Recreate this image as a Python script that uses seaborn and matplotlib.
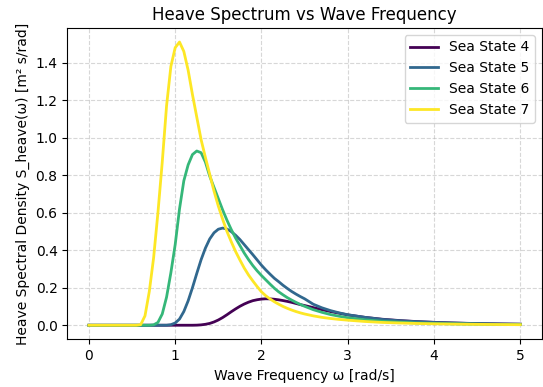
import matplotlib
matplotlib.use("Agg")
import matplotlib.pyplot as plt
import seaborn as sns
import pandas as pd

# Wave frequency grid [rad/s]
omega = [0.0, 0.1, 0.2, 0.3, 0.4, 0.5, 0.55, 0.60, 0.65, 0.70, 0.75, 0.80, 0.85, 0.90, 0.95,
         1.00, 1.05, 1.10, 1.15, 1.20, 1.25, 1.30, 1.35, 1.40, 1.45, 1.50, 1.55, 1.60, 1.65,
         1.70, 1.75, 1.80, 1.85, 1.90, 1.95, 2.00, 2.05, 2.10, 2.15, 2.20, 2.25, 2.30, 2.35,
         2.40, 2.45, 2.50, 2.6, 2.7, 2.8, 2.9, 3.0, 3.2, 3.4, 3.6, 3.8, 4.0, 4.2, 4.4, 4.6,
         4.8, 5.0]

sea_state_4 = [0, 0, 0, 0, 0, 0, 0, 0, 0, 0, 0, 0, 0, 0, 0,
               0, 0, 0, 0, 0, 0.0005, 0.002, 0.005, 0.0097, 0.0175, 0.028, 0.041, 0.056, 0.072,
               0.087, 0.101, 0.113, 0.123, 0.131, 0.136, 0.1395, 0.141, 0.1405, 0.1385, 0.1355, 0.1315, 0.127, 0.122,
               0.116, 0.110, 0.105, 0.094, 0.083, 0.073, 0.064, 0.055, 0.042, 0.032, 0.025, 0.0195, 0.0155, 0.0125, 0.010, 0.0083,
               0.0069, 0.0058]

sea_state_5 = [0, 0, 0, 0, 0, 0, 0, 0, 0, 0, 0, 0, 0, 0, 0.003,
               0.012, 0.033, 0.073, 0.13, 0.20, 0.276, 0.349, 0.411, 0.46, 0.493, 0.512, 0.518, 0.513, 0.499,
               0.48, 0.457, 0.43, 0.403, 0.376, 0.348, 0.32, 0.295, 0.272, 0.25, 0.232, 0.213, 0.196, 0.18,
               0.166, 0.153, 0.141, 0.112, 0.093, 0.078, 0.066, 0.056, 0.042, 0.031, 0.024, 0.019, 0.015, 0.012, 0.0095, 0.0078,
               0.0064, 0.0053]

sea_state_6 = [0, 0, 0, 0, 0, 0, 0, 0, 0, 0, 0.002, 0.015, 0.06, 0.15, 0.28,
               0.43, 0.62, 0.77, 0.855, 0.91, 0.929, 0.92, 0.87, 0.795, 0.735, 0.675, 0.615, 0.56, 0.51,
               0.465, 0.425, 0.385, 0.35, 0.318, 0.29, 0.265, 0.242, 0.219, 0.197, 0.178, 0.162, 0.147, 0.134,
               0.122, 0.111, 0.101, 0.083, 0.069, 0.057, 0.048, 0.040, 0.029, 0.021, 0.016, 0.012, 0.0095, 0.0077, 0.0063, 0.0052,
               0.0043, 0.0036]

sea_state_7 = [0, 0, 0, 0, 0, 0, 0, 0.003, 0.05, 0.18, 0.36, 0.60, 0.87, 1.17, 1.38,
               1.48, 1.51, 1.46, 1.36, 1.23, 1.11, 0.99, 0.895, 0.805, 0.715, 0.635, 0.565, 0.50, 0.445,
               0.393, 0.348, 0.305, 0.268, 0.236, 0.206, 0.178, 0.157, 0.14, 0.125, 0.112, 0.10, 0.09, 0.081,
               0.073, 0.066, 0.06, 0.05, 0.042, 0.036, 0.031, 0.027, 0.020, 0.015, 0.012, 0.0095, 0.0077, 0.0063, 0.0052, 0.0043,
               0.0036, 0.003]

labels = ["Sea State 4", "Sea State 5", "Sea State 6", "Sea State 7"]
series = [sea_state_4, sea_state_5, sea_state_6, sea_state_7]

df = pd.concat(
    [pd.DataFrame({"omega": omega, "S": s, "state": lab}) for s, lab in zip(series, labels)],
    ignore_index=True,
)

cmap = plt.get_cmap("viridis")
colors = [cmap(0.0), cmap(1 / 3), cmap(2 / 3), cmap(1.0)]

fig, ax = plt.subplots(figsize=(5.43, 3.87), dpi=100)
sns.lineplot(data=df, x="omega", y="S", hue="state", hue_order=labels,
             palette=colors, linewidth=2, estimator=None, ax=ax)

ax.set_title("Heave Spectrum vs Wave Frequency", fontsize=12)
ax.set_xlabel("Wave Frequency ω [rad/s]", fontsize=10)
ax.set_ylabel("Heave Spectral Density S_heave(ω) [m² s/rad]", fontsize=10)
ax.grid(True, linestyle="--", alpha=0.5)
sns.move_legend(ax, "upper right", title=None, fontsize=10)

fig.subplots_adjust(left=0.124, right=0.998, top=0.928, bottom=0.123)
fig.savefig("out.png", dpi=100)
